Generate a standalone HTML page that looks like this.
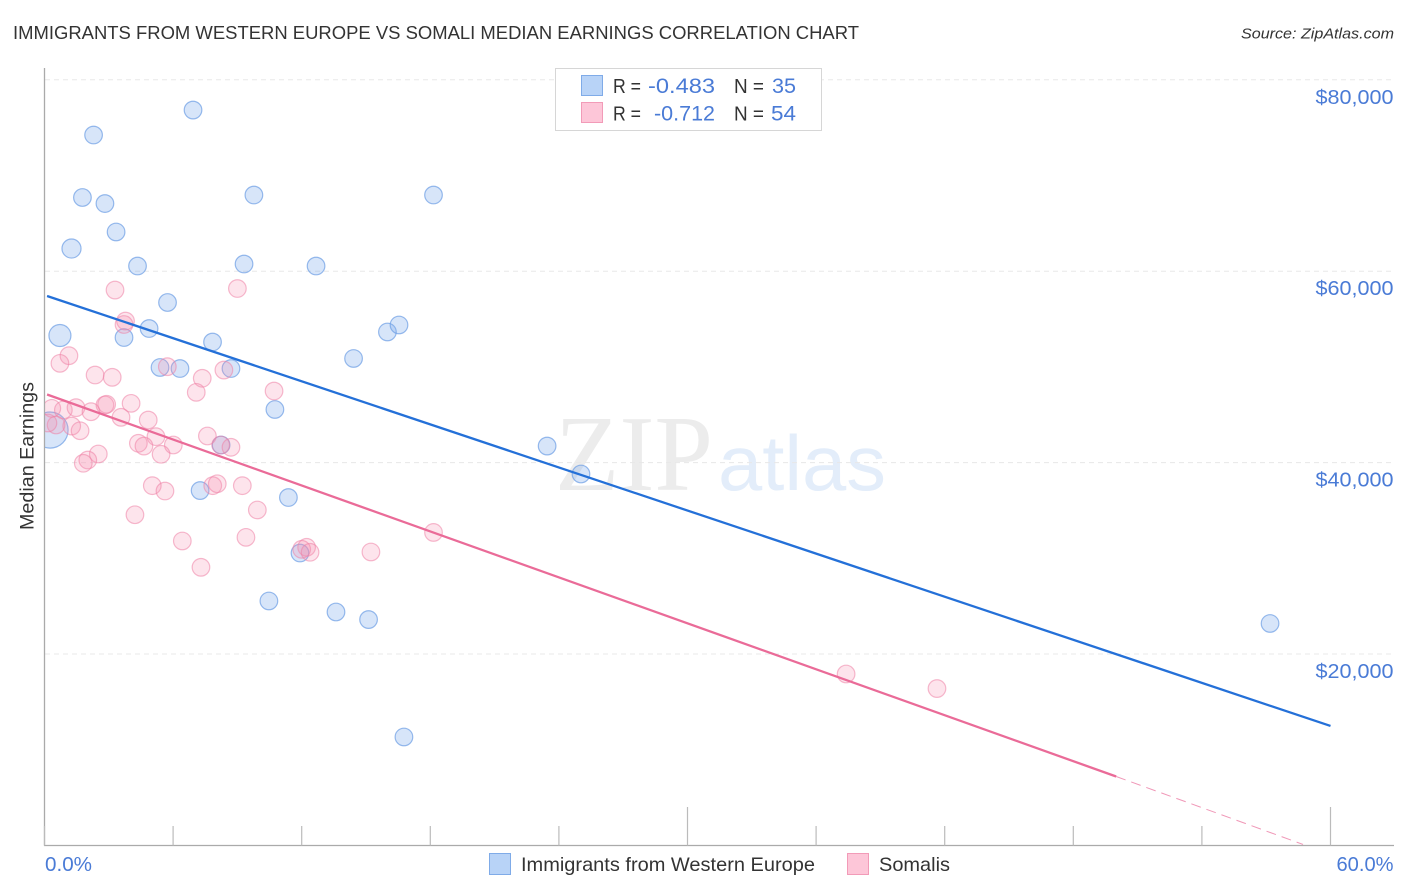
<!DOCTYPE html>
<html lang="en">
<head>
<meta charset="utf-8">
<title>Immigrants from Western Europe vs Somali Median Earnings Correlation Chart</title>
<style>
html,body{margin:0;padding:0;background:#fff;width:1406px;height:892px;overflow:hidden}
svg{display:block;font-family:"Liberation Sans",sans-serif}
</style>
</head>
<body>
<svg id="chart" xmlns="http://www.w3.org/2000/svg" width="1406" height="892" viewBox="0 0 1406 892">
  <defs><clipPath id="plot-clip"><rect x="45" y="60" width="1350" height="785"/></clipPath></defs>
  <text x="13" y="39" font-size="18.5" fill="#333333" textLength="846" lengthAdjust="spacingAndGlyphs">IMMIGRANTS FROM WESTERN EUROPE VS SOMALI MEDIAN EARNINGS CORRELATION CHART</text>
  <text x="1241" y="38.500" font-size="15" font-style="italic" fill="#333333" textLength="153" lengthAdjust="spacingAndGlyphs">Source: ZipAtlas.com</text>
  <g>
    <text x="555" y="490" font-family="'Liberation Serif',serif" font-size="108" fill="#ececec" textLength="158" lengthAdjust="spacingAndGlyphs">ZIP</text>
    <text x="718" y="490" font-size="78" fill="#e3edfa" textLength="168" lengthAdjust="spacingAndGlyphs">atlas</text>
  </g>
  <g id="grid"></g>
  <g id="axes"></g>
  <g id="marks" clip-path="url(#plot-clip)"></g>
  <g id="trends"></g>
  <g>
    <rect x="555.500" y="68.500" width="266" height="62" fill="#fff" stroke="#d6d6d6" stroke-width="1"/>
    <rect x="581.500" y="75.500" width="21" height="20" fill="#b8d3f7" stroke="#7fabe8"/>
    <rect x="581.500" y="102.500" width="21" height="20" fill="#fdc6d8" stroke="#f29bb8"/>
    <g font-size="20">
      <text x="613" y="93" fill="#333333" textLength="28" lengthAdjust="spacingAndGlyphs">R =</text>
      <text x="648" y="93" fill="#4a7bd6" font-size="21" textLength="67" lengthAdjust="spacingAndGlyphs">-0.483</text>
      <text x="734" y="93" fill="#333333" textLength="30" lengthAdjust="spacingAndGlyphs">N =</text>
      <text x="772" y="93" fill="#4a7bd6" font-size="21" textLength="24" lengthAdjust="spacingAndGlyphs">35</text>
      <text x="613" y="120.500" fill="#333333" textLength="28" lengthAdjust="spacingAndGlyphs">R =</text>
      <text x="654" y="120.500" fill="#4a7bd6" font-size="21" textLength="61" lengthAdjust="spacingAndGlyphs">-0.712</text>
      <text x="734" y="120.500" fill="#333333" textLength="30" lengthAdjust="spacingAndGlyphs">N =</text>
      <text x="771" y="120.500" fill="#4a7bd6" font-size="21" textLength="25" lengthAdjust="spacingAndGlyphs">54</text>
    </g>
  </g>
  <g>
    <rect x="489.500" y="853.500" width="21" height="21" fill="#b8d3f7" stroke="#7fabe8"/>
    <text x="521" y="871" font-size="19.500" fill="#333333" textLength="294" lengthAdjust="spacingAndGlyphs">Immigrants from Western Europe</text>
    <rect x="847.500" y="853.500" width="21" height="21" fill="#fdc6d8" stroke="#f29bb8"/>
    <text x="879" y="871" font-size="19.500" fill="#333333" textLength="71" lengthAdjust="spacingAndGlyphs">Somalis</text>
  </g>
  <text transform="translate(33.500 530) rotate(-90)" font-size="19" fill="#333333" textLength="148" lengthAdjust="spacingAndGlyphs">Median Earnings</text>
</svg>
<script>
const yTickValues = [20000, 40000, 60000, 80000];
const yTickLabels = ["$20,000", "$40,000", "$60,000", "$80,000"];
const xTickValues = [0, 6, 12, 18, 24, 30, 36, 42, 48, 54, 60];
const xMajorTicks = [30, 60];
const xEdgeValues = [0, 60];
const xEdgeLabels = ["0.0%", "60.0%"];

const immigrantsShare = [6.93,2.29,1.77,2.82,9.77,18.15,3.34,1.26,4.34,9.31,12.67,5.74,4.88,3.71,0.72,7.84,16.0,16.54,14.42,5.39,6.32,8.70,10.75,0.26,8.24,23.45,25.03,7.26,11.38,11.92,10.47,13.60,15.12,57.18,16.77];
const immigrantsEarnings = [76840,74230,67700,67070,67960,67960,64100,62370,60540,60750,60540,56730,54010,53070,53280,52600,53650,54380,50880,49940,49830,49830,45550,43400,41840,41730,38810,37080,36350,30550,25540,24390,23600,23190,11330];
const immigrantsWeight = [1,1,1,1,1,1,1,1.17,1,1,1,1,1,1,1.56,1,1,1,1,1,1,1,1,4.2,1,1,1,1,1,1,1,1,1,1,1];

const somalisShare = [1.14,0.72,2.36,3.16,5.73,7.36,7.08,8.37,10.71,0.34,0.88,1.47,2.17,2.82,2.90,4.04,3.57,4.84,1.27,1.66,0.54,5.20,4.38,4.64,6.01,5.44,7.60,8.22,8.70,2.51,2.02,1.81,5.03,5.62,7.85,8.06,9.23,9.93,4.22,6.43,9.40,7.30,12.23,12.00,12.39,15.23,18.15,37.40,41.64,3.29,9.00,3.78,3.71,0.16];
const somalisEarnings = [51170,50370,49150,48910,50020,48810,47340,49670,47480,45670,45500,45740,45320,46020,46090,46190,44730,44450,43820,43330,43930,42710,42020,41730,41840,40870,42780,41840,41600,40900,40270,39930,37590,37030,37590,37790,37590,35050,34550,31810,32190,29060,31150,30940,30630,30660,32700,17910,16390,58030,58190,54790,54430,44140];

const immigrantsTrendX = [0.12, 60];
const immigrantsTrendY = [57410, 12480];
const somalisTrendX = [0.12, 50];
const somalisTrendY = [47115, 7200];
const somalisForecastX = [50, 58.72];
const somalisForecastY = [7200, 100];

const NS = "http://www.w3.org/2000/svg";
function xScale(v){ return 44.5 + v * (1330.5 - 44.5) / 60; }
function yScale(v){ return 845.4 - v * 191.4 / 20000; }
function make(tag, attrs, parent){
  const el = document.createElementNS(NS, tag);
  for (const k in attrs) el.setAttribute(k, attrs[k]);
  parent.appendChild(el);
  return el;
}
const gridG = document.getElementById("grid");
const axesG = document.getElementById("axes");
const marksG = document.getElementById("marks");
const trendsG = document.getElementById("trends");

yTickValues.forEach(function(v, i){
  const line = make("line", {x1:45, x2:1393, y1:yScale(v), y2:yScale(v), stroke:"#e8e8e8", "stroke-width":1, "stroke-dasharray":"5 4"}, gridG);
  
  
  const label = make("text", {x:1393.5, y:yScale(v) + 24, "text-anchor":"end", "font-size":20.5, fill:"#4a7bd6", textLength:78, lengthAdjust:"spacingAndGlyphs"}, axesG);
  label.textContent = yTickLabels[i];
  
  
});

const yAxisLine = make("line", {x1:44.5, x2:44.5, y1:68, y2:845.5, stroke:"#aaaaaa", "stroke-width":1.3}, axesG);


const xAxisLine = make("line", {x1:44, x2:1394, y1:845.5, y2:845.5, stroke:"#aaaaaa", "stroke-width":1.3}, axesG);



xTickValues.forEach(function(v){
  const major = xMajorTicks.indexOf(v) >= 0;
  const tick = make("line", {x1:xScale(v), x2:xScale(v), y1:major ? 807 : 826, y2:845.5, stroke:"#bbbbbb", "stroke-width":1.2}, axesG);
  
  
});

xEdgeValues.forEach(function(v, i){
  const first = i === 0;
  const label = make("text", {x:first ? xScale(v) + 0.5 : 1393.5, y:871, "text-anchor":first ? "start" : "end", "font-size":20, fill:"#4a7bd6", textLength:first ? 47 : 57, lengthAdjust:"spacingAndGlyphs"}, axesG);
  label.textContent = xEdgeLabels[i];
  
  
});

immigrantsShare.forEach(function(v, i){
  const dot = make("circle", {cx:xScale(v), cy:yScale(immigrantsEarnings[i]), r:8.8 * Math.sqrt(immigrantsWeight[i]), fill:"#7aaaea", "fill-opacity":0.3, stroke:"#6f9fe4", "stroke-opacity":0.72, "stroke-width":1.2}, marksG);
  
  
});
somalisShare.forEach(function(v, i){
  const dot = make("circle", {cx:xScale(v), cy:yScale(somalisEarnings[i]), r:8.8, fill:"#f78fb0", "fill-opacity":0.24, stroke:"#ee82a6", "stroke-opacity":0.55, "stroke-width":1.2}, marksG);
  
  
});

const blueTrend = make("line", {x1:xScale(immigrantsTrendX[0]), y1:yScale(immigrantsTrendY[0]), x2:xScale(immigrantsTrendX[1]), y2:yScale(immigrantsTrendY[1]), stroke:"#2470d8", "stroke-width":2.3}, trendsG);


const pinkTrend = make("line", {x1:xScale(somalisTrendX[0]), y1:yScale(somalisTrendY[0]), x2:xScale(somalisTrendX[1]), y2:yScale(somalisTrendY[1]), stroke:"#ea6b98", "stroke-width":2.3}, trendsG);


const pinkForecast = make("line", {x1:xScale(somalisForecastX[0]), y1:yScale(somalisForecastY[0]), x2:xScale(somalisForecastX[1]), y2:yScale(somalisForecastY[1]), stroke:"#ea6b98", "stroke-width":1, "stroke-dasharray":"10 6", "stroke-opacity":0.7}, trendsG);


</script>
</body>
</html>
